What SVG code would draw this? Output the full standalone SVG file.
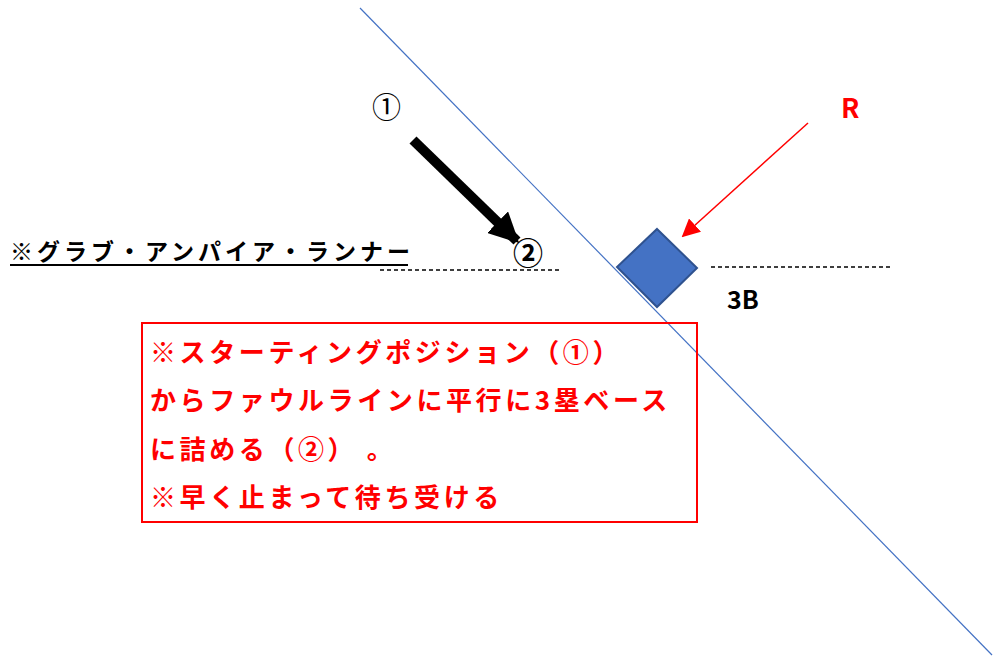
<svg xmlns="http://www.w3.org/2000/svg" width="998" height="667" viewBox="0 0 998 667">
<defs>
<style>
.jp{font-family:"Noto Sans CJK JP","Liberation Sans",sans-serif;font-weight:bold}
.red{fill:#FF0000}
.dash{stroke:#000;stroke-width:1.3;stroke-dasharray:4 3;fill:none}
</style>
<marker id="ah-red" viewBox="0 0 10 10" refX="9" refY="5" markerWidth="18" markerHeight="18" markerUnits="userSpaceOnUse" orient="auto"><path d="M0,0 L10,5 L0,10 z" fill="#FF0000"/></marker>
<marker id="ah-blk" viewBox="0 0 10 10" refX="9" refY="5" markerWidth="3" markerHeight="3" orient="auto"><path d="M0,0 L10,5 L0,10 z" fill="#000"/></marker>
</defs>
<rect width="998" height="667" fill="#fff"/>
<g id="foul-line"><line x1="360" y1="8" x2="992" y2="655" stroke="#4472C4" stroke-width="1.2"/></g>
<g id="connectors">
<line x1="413" y1="140" x2="517" y2="241" stroke="#000" stroke-width="10" marker-end="url(#ah-blk)"/>
<line x1="808" y1="123" x2="683" y2="236" stroke="#FF0000" stroke-width="1.5" marker-end="url(#ah-red)"/>
<line class="dash" x1="380" y1="270" x2="560" y2="270"/>
<line class="dash" x1="711" y1="267" x2="893" y2="267"/>
</g>
<g id="base3"><polygon points="657,229 697,268 657,307 617,267" fill="#4472C4" stroke="#2F528F" stroke-width="2"/>
<text x="727" y="309" class="jp" font-size="25" fill="#000">3B</text></g>
<g id="label-R"><text x="841" y="118" class="jp red" font-size="27">R</text></g>
<g id="pos1"><text x="372" y="118" font-family="Noto Sans CJK JP,sans-serif" font-size="29" fill="#000">①</text></g>
<g id="pos2"><text x="513" y="264" class="jp" font-size="30" fill="#000">②</text></g>
<g id="title"><text x="10" y="260" class="jp" font-size="23" letter-spacing="4" fill="#000">※グラブ・アンパイア・ランナー</text>
<line x1="10" y1="265" x2="408" y2="265" stroke="#000" stroke-width="2"/></g>
<g id="note">
<rect x="142" y="323" width="555" height="199" fill="none" stroke="#FF0000" stroke-width="2"/>
<text class="jp red" font-size="26" letter-spacing="3.6">
<tspan x="150" y="362">※スターティングポジション（①）</tspan>
<tspan x="150" y="410">からファウルラインに平行に3塁ベース</tspan>
<tspan x="150" y="459">に詰める（②）  。</tspan>
<tspan x="150" y="507">※早く止まって待ち受ける</tspan>
</text>
</g>
</svg>
